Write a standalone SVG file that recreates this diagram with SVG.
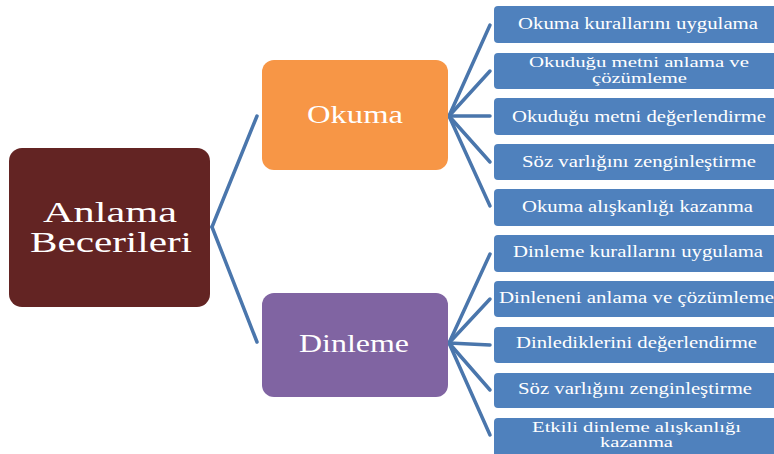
<svg xmlns="http://www.w3.org/2000/svg" width="774" height="454" viewBox="0 0 774 454">
<style>
.t{font-family:"Liberation Serif","Times New Roman",serif;fill:#ffffff}
.leaf rect{fill:#4F81BD}
.leaf text{font-size:16.5px}
.leaf text.two{font-size:14.5px}
.conn line{stroke:#4A76AC;stroke-width:3.5;stroke-linecap:round}
</style>
<rect width="774" height="454" fill="#ffffff"/>
<g class="conn">
<line x1="212" y1="227" x2="257" y2="116"/>
<line x1="212" y1="227" x2="257" y2="342"/>
<line x1="449" y1="116" x2="490" y2="25"/>
<line x1="449" y1="116" x2="490" y2="71"/>
<line x1="449" y1="116" x2="490" y2="116"/>
<line x1="449" y1="116" x2="490" y2="162"/>
<line x1="449" y1="116" x2="490" y2="206"/>
<line x1="449" y1="343" x2="490" y2="254"/>
<line x1="449" y1="343" x2="490" y2="299"/>
<line x1="449" y1="343" x2="490" y2="345"/>
<line x1="449" y1="343" x2="490" y2="390"/>
<line x1="449" y1="343" x2="490" y2="435"/>
</g>
<g id="anlama">
<rect x="9" y="148" width="201" height="159" rx="13" fill="#632423"/>
<text class="t" x="110" y="222" font-size="30" text-anchor="middle" textLength="134" lengthAdjust="spacingAndGlyphs">Anlama</text>
<text class="t" x="111" y="252" font-size="30" text-anchor="middle" textLength="162" lengthAdjust="spacingAndGlyphs">Becerileri</text>
</g>
<g id="okuma">
<rect x="262" y="60" width="186" height="110" rx="12" fill="#F79646"/>
<text class="t" x="355" y="123" font-size="25" text-anchor="middle" textLength="96" lengthAdjust="spacingAndGlyphs">Okuma</text>
</g>
<g id="dinleme">
<rect x="262" y="293" width="186" height="104" rx="12" fill="#8064A2"/>
<text class="t" x="354" y="352" font-size="25" text-anchor="middle" textLength="110" lengthAdjust="spacingAndGlyphs">Dinleme</text>
</g>
<g id="o1" class="leaf"><rect x="494" y="6" width="300" height="37" rx="4"/><text class="t" x="518" y="29" textLength="240" lengthAdjust="spacingAndGlyphs">Okuma kurallarını uygulama</text></g>
<g id="o2" class="leaf"><rect x="494" y="53" width="300" height="36" rx="4"/><text class="t two" x="529" y="67" textLength="220" lengthAdjust="spacingAndGlyphs">Okuduğu metni anlama ve</text><text class="t two" x="592" y="83" textLength="95" lengthAdjust="spacingAndGlyphs">çözümleme</text></g>
<g id="o3" class="leaf"><rect x="494" y="98" width="300" height="37" rx="4"/><text class="t" x="512" y="122" textLength="254" lengthAdjust="spacingAndGlyphs">Okuduğu metni değerlendirme</text></g>
<g id="o4" class="leaf"><rect x="494" y="144" width="300" height="36" rx="4"/><text class="t" x="522" y="167" textLength="234" lengthAdjust="spacingAndGlyphs">Söz varlığını zenginleştirme</text></g>
<g id="o5" class="leaf"><rect x="494" y="189" width="300" height="37" rx="4"/><text class="t" x="522" y="212" textLength="231" lengthAdjust="spacingAndGlyphs">Okuma alışkanlığı kazanma</text></g>
<g id="d1" class="leaf"><rect x="494" y="235" width="300" height="37" rx="4"/><text class="t" x="513" y="257" textLength="250" lengthAdjust="spacingAndGlyphs">Dinleme kurallarını uygulama</text></g>
<g id="d2" class="leaf"><rect x="494" y="281" width="300" height="36" rx="4"/><text class="t" x="499" y="303" textLength="275" lengthAdjust="spacingAndGlyphs">Dinleneni anlama ve çözümleme</text></g>
<g id="d3" class="leaf"><rect x="494" y="327" width="300" height="36" rx="4"/><text class="t" x="516" y="348" textLength="241" lengthAdjust="spacingAndGlyphs">Dinlediklerini değerlendirme</text></g>
<g id="d4" class="leaf"><rect x="494" y="373" width="300" height="35" rx="4"/><text class="t" x="518" y="394" textLength="234" lengthAdjust="spacingAndGlyphs">Söz varlığını zenginleştirme</text></g>
<g id="d5" class="leaf"><rect x="494" y="418" width="300" height="50" rx="4"/><text class="t two" x="532" y="432" textLength="209" lengthAdjust="spacingAndGlyphs">Etkili dinleme alışkanlığı</text><text class="t two" x="600" y="447" textLength="73" lengthAdjust="spacingAndGlyphs">kazanma</text></g>
</svg>
